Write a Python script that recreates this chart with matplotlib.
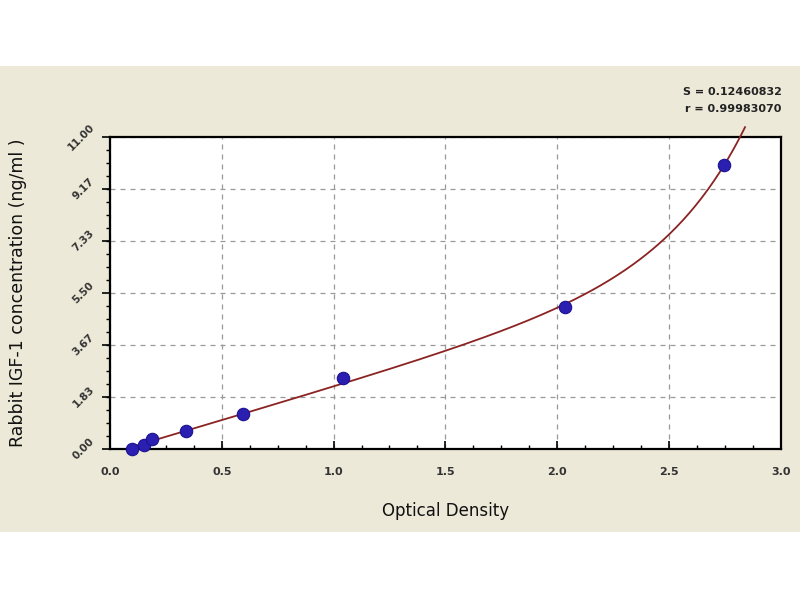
import numpy as np
import matplotlib
matplotlib.use("Agg")
import matplotlib.pyplot as plt
from matplotlib.patches import Rectangle
from matplotlib.ticker import MultipleLocator, FixedLocator

# ---- data ----
od = [0.10, 0.15, 0.187, 0.341, 0.596, 1.04, 2.035, 2.745]
conc = [0.0, 0.14, 0.35, 0.63, 1.23, 2.50, 5.00, 10.0]
y_ticks = [0.0, 1.83, 3.67, 5.50, 7.33, 9.17, 11.00]
y_tick_labels = ["0.00", "1.83", "3.67", "5.50", "7.33", "9.17", "11.00"]
x_ticks = [0.0, 0.5, 1.0, 1.5, 2.0, 2.5, 3.0]
x_tick_labels = ["0.0", "0.5", "1.0", "1.5", "2.0", "2.5", "3.0"]
stats_text = ["S = 0.12460832", "r = 0.99983070"]
fit_range = (0.08, 2.84)
k_range = (1.0, 2.8)

BEIGE = "#ECE9D8"

# ---- least-squares fit y = a + b*x + c*exp(k*x) (k by grid search) ----
xd = np.asarray(od)
yd = np.asarray(conc)
best = None
for k in np.linspace(k_range[0], k_range[1], 300):
    A = np.column_stack([np.ones_like(xd), xd, np.exp(k * xd)])
    p, *_ = np.linalg.lstsq(A, yd, rcond=None)
    r = np.sum((A @ p - yd) ** 2)
    if best is None or r < best[0]:
        best = (r, k, p)
_, kb, pb = best
xf = np.linspace(fit_range[0], fit_range[1], 300)
yf = pb[0] + pb[1] * xf + pb[2] * np.exp(kb * xf)

fig = plt.figure(figsize=(8, 6), dpi=100)
fig.patch.set_facecolor("white")
fig.patches.append(Rectangle((0, 0.113), 1, 0.777, transform=fig.transFigure,
                             facecolor=BEIGE, edgecolor="none", zorder=-10))

ax = fig.add_axes([0.1375, 0.2517, 0.8385, 0.52])
ax.set_zorder(1)
ax.set_facecolor("white")
ax.set_xlim(0, 3.0)
ax.set_ylim(0, 11.0)

ax.plot(xf, yf, color="#8B2323", lw=1.3, zorder=3, clip_on=False)

ax.scatter(od, conc, s=80, color="#2A1FB0", edgecolors="#1A1490", linewidths=0.8,
           zorder=4, clip_on=False)

ax.xaxis.set_major_locator(FixedLocator(x_ticks))
ax.set_xticklabels(x_tick_labels, fontsize=8, fontweight="bold", color="#333333")
ax.xaxis.set_minor_locator(MultipleLocator(0.125))
ax.yaxis.set_major_locator(FixedLocator(y_ticks))
ax.set_yticklabels(y_tick_labels, fontsize=7.5, fontweight="bold", color="#333333",
                   rotation=45, va="center", ha="right")
ax.yaxis.set_minor_locator(MultipleLocator(11 / 24))

ax.tick_params(axis="x", which="major", direction="in", length=6, width=1.2, pad=13)
ax.tick_params(axis="x", which="minor", direction="in", length=3, width=1.0)
ax.tick_params(axis="y", which="major", direction="out", length=6, width=1.2, pad=4)
ax.tick_params(axis="y", which="minor", direction="out", length=3, width=1.0)
ax.tick_params(top=False, right=False)

ax.grid(True, which="major", color="#999999", linestyle=(0, (4, 4)), lw=0.9)
for s in ax.spines.values():
    s.set_linewidth(1.6)
    s.set_color("black")

ax.set_xlabel("Optical Density", fontsize=12, labelpad=18, color="#111111")
ax.set_ylabel("Rabbit IGF-1 concentration (ng/ml )", fontsize=12.5, labelpad=28,
              color="#111111")

fig.text(0.977, 0.847, stats_text[0], ha="right", va="center", fontsize=8,
         fontweight="bold", color="#222222")
fig.text(0.977, 0.818, stats_text[1], ha="right", va="center", fontsize=8,
         fontweight="bold", color="#222222")

fig.savefig("out.png", dpi=100, facecolor=fig.get_facecolor())
